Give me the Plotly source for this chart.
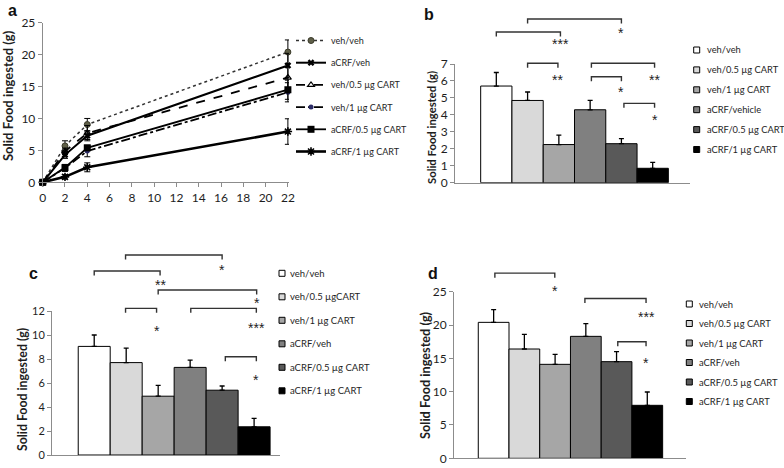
import plotly.graph_objects as go

W, H = 784, 468
FONT = "Lato"
INK = "#1e1e1e"
AXC = "#8c8c8c"
BRK = "#333333"

# ---------------- data ----------------
hours = [0, 2, 4, 22]
hour_ticks = [0, 2, 4, 6, 8, 10, 12, 14, 16, 18, 20, 22]

a_names = ["veh/veh", "aCRF/veh", "veh/0.5 µg CART", "veh/1 µg CART",
           "aCRF/0.5 µg CART", "aCRF/1 µg CART"]
a_veh_veh = [0, 5.7, 9.05, 20.4]
a_veh_veh_err = [0, 0.8, 0.95, 1.9]
a_acrf_veh = [0, 4.3, 7.3, 18.3]
a_acrf_veh_err = [0, 0.55, 0.6, 1.9]
a_veh_05 = [0, 4.85, 7.7, 16.4]
a_veh_05_err = [0, 0.5, 1.2, 2.2]
a_veh_1 = [0, 2.25, 4.9, 14.1]
a_veh_1_err = [0, 0.55, 0.9, 1.5]
a_acrf_05 = [0, 2.3, 5.4, 14.5]
a_acrf_05_err = [0, 0.3, 0.35, 1.5]
a_acrf_1 = [0, 0.85, 2.35, 7.95]
a_acrf_1_err = [0, 0.35, 0.7, 2.0]

groups = [0, 1, 2, 3, 4, 5]
legend_b = ["veh/veh", "veh/0.5 µg CART", "veh/1 µg CART", "aCRF/vehicle",
            "aCRF/0.5 µg CART", "aCRF/1 µg CART"]
legend_c = ["veh/veh", "veh/0.5 µgCART", "veh/1 µg CART", "aCRF/veh",
            "aCRF/0.5 µg CART", "aCRF/1 µg CART"]
legend_d = ["veh/veh", "veh/0.5 µg CART", "veh/1 µg CART", "aCRF/veh",
            "aCRF/0.5 µg CART", "aCRF/1 µg CART"]

b_vals = [5.7, 4.85, 2.25, 4.3, 2.3, 0.85]
b_err = [0.8, 0.5, 0.55, 0.55, 0.3, 0.35]
c_vals = [9.05, 7.7, 4.9, 7.3, 5.4, 2.35]
c_err = [0.95, 1.2, 0.9, 0.6, 0.35, 0.7]
d_vals = [20.4, 16.4, 14.1, 18.3, 14.5, 7.95]
d_err = [1.9, 2.2, 1.5, 1.9, 1.5, 2.0]

# significance brackets: (from group, to group, level, stars, star level)
b_sig = [(1.0, 4.0, 9.65, "*", 9.0),
         (0.0, 2.05, 8.89, "***", 8.35),
         (1.0, 1.97, 7.04, "**", 6.23),
         (3.04, 5.06, 7.04, "**", 6.23),
         (3.04, 4.0, 6.25, "*", 5.51),
         (4.08, 5.06, 4.68, "*", 3.86)]
c_sig = [(0.98, 4.0, 16.67, "*", 15.67),
         (0.0, 2.06, 15.33, "**", 14.42),
         (2.0, 5.08, 13.75, "*", 12.92),
         (0.98, 1.95, 12.22, "*", 10.58),
         (3.02, 5.07, 12.22, "***", 10.83),
         (4.1, 5.07, 8.19, "*", 6.5)]
d_sig = [(0.04, 1.99, 27.78, "*", 25.5),
         (2.97, 4.96, 23.99, "***", 21.6),
         (4.04, 4.96, 17.48, "*", 14.74)]

bar_colors = ["#ffffff", "#d9d9d9", "#a6a6a6", "#808080", "#595959", "#000000"]


def px(x):
    return x / W


def py(y):
    return 1 - y / H


fig = go.Figure()

# ---------------- panel a ----------------
a_series = [
    (a_veh_veh, a_veh_veh_err, dict(dash="dot", width=1.5, color="#333333"),
     dict(symbol="circle", size=6, color="#5f5f48", line=dict(color="#3a3a2a", width=1))),
    (a_acrf_veh, a_acrf_veh_err, dict(dash="solid", width=2, color="#000000"),
     dict(symbol="x", size=6, color="#000000")),
    (a_veh_05, a_veh_05_err, dict(dash="dash", width=1.8, color="#000000"),
     dict(symbol="triangle-up-open", size=6, color="#000000", line=dict(width=1.2))),
    (a_veh_1, a_veh_1_err, dict(dash="dashdot", width=1.8, color="#000000"),
     dict(symbol="circle", size=5, color="#2b2b66")),
    (a_acrf_05, a_acrf_05_err, dict(dash="solid", width=1.8, color="#000000"),
     dict(symbol="square", size=7, color="#000000")),
    (a_acrf_1, a_acrf_1_err, dict(dash="solid", width=2.6, color="#000000"),
     dict(symbol="asterisk-open", size=7, color="#000000", line=dict(width=1.6))),
]
for name, (vals, errs, line, marker) in zip(a_names, a_series):
    fig.add_trace(go.Scatter(
        x=hours, y=vals, name=name, mode="lines+markers", line=line, marker=marker,
        error_y=dict(type="data", array=errs, symmetric=True, color="#000000",
                     thickness=1, width=3),
        cliponaxis=False, legendgroup=name, legend="legend",
        xaxis="x", yaxis="y"))

# ---------------- bar panels ----------------
panels = [
    ("2", b_vals, b_err, [-1.321, 6.193], 7, 1, (455, 690), (182.7, 64), b_sig, 12),
    ("3", c_vals, c_err, [-1.32, 5.81], 12, 2, (52, 280), (455, 311), c_sig, 11),
    ("4", d_vals, d_err, [-1.29, 6.26], 25, 5, (454, 686), (458.3, 291.7), d_sig, 12),
]

shapes = []
annotations = []
layout_axes = {}

for aid, vals, errs, xr, ymax, dt, xpx, ypx, sig, tfs in panels:
    fig.add_trace(go.Bar(
        x=groups, y=vals, width=1,
        marker=dict(color=bar_colors, line=dict(color="#000000", width=1)),
        error_y=dict(type="data", array=errs, arrayminus=[0] * 6, symmetric=False,
                     color="#000000", thickness=1.3, width=2.5),
        showlegend=False, xaxis="x" + aid, yaxis="y" + aid))
    layout_axes["xaxis" + aid] = dict(
        domain=[px(xpx[0]), px(xpx[1])], range=xr, anchor="y" + aid,
        showline=True, linecolor=AXC, linewidth=1, showticklabels=False,
        ticks="", showgrid=False, zeroline=False)
    layout_axes["yaxis" + aid] = dict(
        domain=[py(ypx[0]), py(ypx[1])], range=[0, ymax], anchor="x" + aid,
        showline=True, linecolor=AXC, linewidth=1, ticks="outside", ticklen=4,
        tickcolor=AXC, dtick=dt, tick0=0, showgrid=False, zeroline=False,
        tickfont=dict(size=tfs, color=INK, family=FONT))
    hpx = ypx[0] - ypx[1]
    tick = 4.5 / hpx
    for x0, x1, lvl, stars, slvl in sig:
        yl = lvl / ymax
        shapes.append(dict(
            type="path", xref="x" + aid, yref="y" + aid + " domain",
            path=f"M {x0},{yl - tick} L {x0},{yl} L {x1},{yl} L {x1},{yl - tick}",
            line=dict(color=BRK, width=1.4)))
        annotations.append(dict(
            x=x1, y=slvl / ymax, xref="x" + aid, yref="y" + aid + " domain",
            text=stars, showarrow=False, xanchor="center", yanchor="middle",
            yshift=-3, font=dict(size=14, color="#222222", family="Liberation Sans")))

# ---------------- manual legends for the bar panels ----------------
bar_legends = [
    (legend_b, 696.7, 705, 50, 19.9, 9.3),
    (legend_c, 282, 288, 273.3, 23.5, 9.5),
    (legend_d, 689.3, 697, 304, 19.5, 9.4),
]
for labels, sqx, tx, y0, dy, fs in bar_legends:
    for i, lab in enumerate(labels):
        yc = y0 + i * dy
        shapes.append(dict(
            type="rect", xref="paper", yref="paper",
            x0=px(sqx - 3), x1=px(sqx + 3), y0=py(yc + 3), y1=py(yc - 3),
            fillcolor=bar_colors[i], line=dict(color="#000000", width=1)))
        annotations.append(dict(
            x=px(tx), y=py(yc), xref="paper", yref="paper", text=lab,
            showarrow=False, xanchor="left", yanchor="middle",
            font=dict(size=fs, color=INK, family=FONT)))

# ---------------- titles & panel letters ----------------
for txt, x, y, fs in [("Solid Food ingested (g)", 8, 96, 13),
                      ("Solid Food ingested (g)", 432, 127, 11.3),
                      ("Solid Food ingested (g)", 22, 390, 12.3),
                      ("Solid Food ingested (g)", 425, 375, 12.7)]:
    annotations.append(dict(
        x=px(x), y=py(y), xref="paper", yref="paper", text="<b>" + txt + "</b>",
        textangle=-90, showarrow=False, xanchor="center", yanchor="middle",
        font=dict(size=fs, color=INK, family=FONT)))

for txt, x, y in [("a", 12, 10), ("b", 429, 15), ("c", 33, 273), ("d", 433, 273)]:
    annotations.append(dict(
        x=px(x), y=py(y), xref="paper", yref="paper", text="<b>" + txt + "</b>",
        showarrow=False, xanchor="center", yanchor="middle",
        font=dict(size=16, color="#111111", family="Liberation Sans")))

fig.update_layout(
    width=W, height=H, margin=dict(l=0, r=0, t=0, b=0, autoexpand=False),
    paper_bgcolor="white", plot_bgcolor="white",
    font=dict(family=FONT, color=INK),
    xaxis=dict(domain=[px(42.7), px(289)], range=[0, 22.1], anchor="y",
               tickvals=hour_ticks, showline=True, linecolor=AXC, linewidth=1,
               ticks="outside", ticklen=4, tickcolor=AXC, showgrid=False,
               zeroline=False, tickfont=dict(size=12, color=INK, family=FONT)),
    yaxis=dict(domain=[py(182.3), py(22.7)], range=[0, 25], anchor="x", dtick=5,
               showline=True, linecolor=AXC, linewidth=1, ticks="outside",
               ticklen=4, tickcolor=AXC, showgrid=False, zeroline=False,
               tickfont=dict(size=12, color=INK, family=FONT)),
    legend=dict(x=px(291), y=py(26), xanchor="left", yanchor="top",
                font=dict(size=9, color=INK, family=FONT),
                bgcolor="rgba(0,0,0,0)", tracegroupgap=3.2, traceorder="grouped"),
    shapes=shapes, annotations=annotations, showlegend=True,
    **layout_axes,
)

fig.write_html(
    "out.html", config={"displayModeBar": False},
    post_script="document.body.style.margin='0';document.body.style.overflow='hidden';")
